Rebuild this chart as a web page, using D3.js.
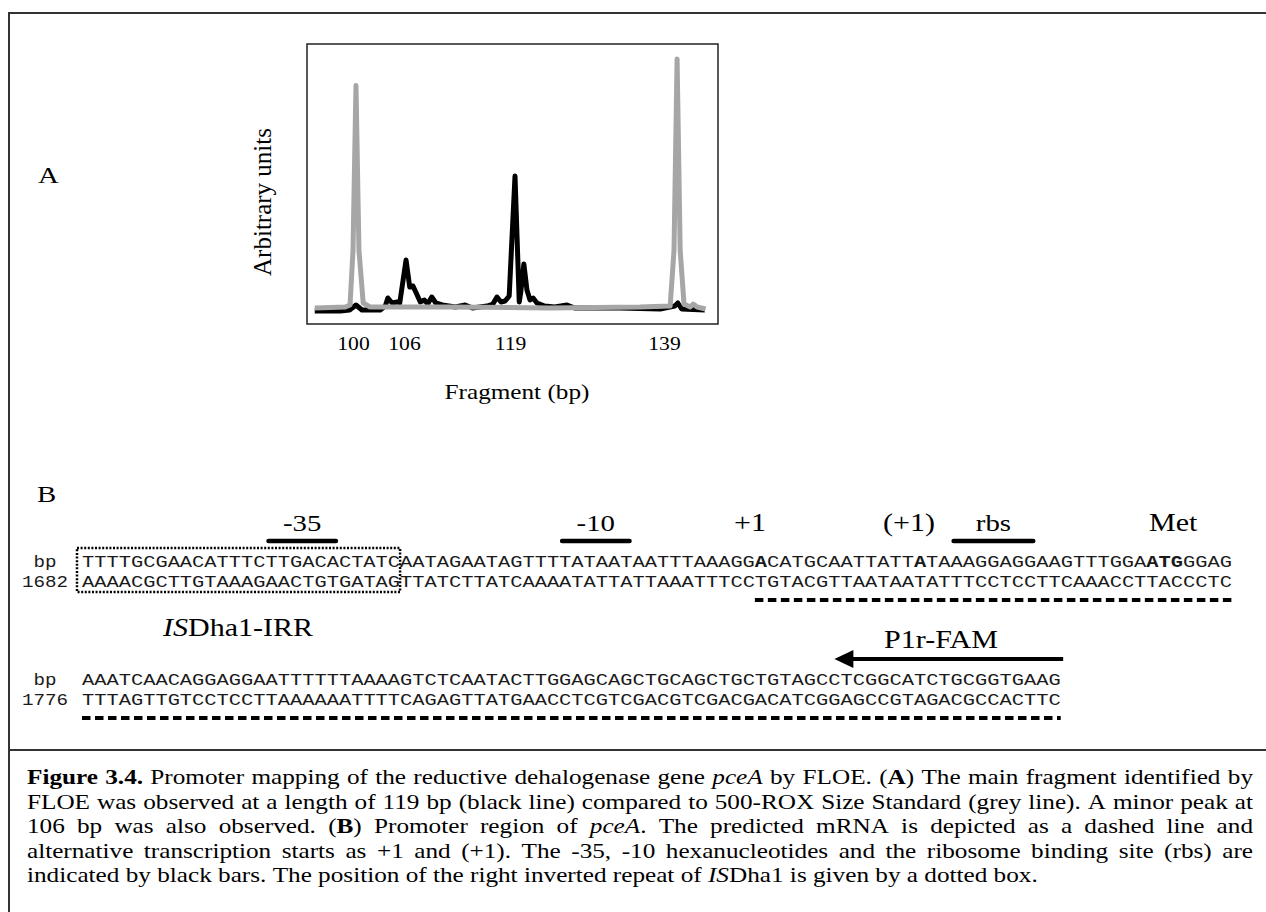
<!DOCTYPE html>
<html>
<head>
<meta charset="utf-8">
<script src="https://cdn.jsdelivr.net/npm/d3@7"></script>
<style>
  body { margin: 0; background: #fff; }
  svg { display: block; }
  text { font-family: "Liberation Serif", "Times New Roman", serif; fill: #000; }
  .seq { font-family: "Courier New", "Liberation Mono", monospace; fill: #1a1a1a; }
</style>
</head>
<body>
<svg id="fig" width="1266" height="912"></svg>
<script>
// ---- data ----
var tickBp = [100, 106, 119, 139];

// black trace: FLOE product (bp, arbitrary units)
var blackBp  = [95.5, 98.5, 99.6, 100.35, 101.05, 103.2, 103.8, 104.1, 104.6, 105.2, 105.5, 106.25, 106.7, 107.1, 107.5, 108.0, 108.5, 108.9, 109.4, 109.9, 110.7, 112.3, 113.5, 114.4, 116.2, 116.9, 117.4, 117.9, 118.4, 118.9, 119.65, 120.2, 120.4, 120.8, 121.2, 121.6, 122.0, 122.5, 123.5, 124.8, 126.4, 127.4, 133.3, 138.5, 140.4, 140.8, 141.3, 144.3];
var blackVal = [-1.2, -1.2, -0.8, 1.2, -0.8, -0.8, 0.8, 4, 2, 2.4, 2, 19.2, 8.4, 8.8, 6, 2.4, 3.2, 1.6, 4.4, 2, 1.2, 0.4, 1.2, 0, 0.8, 1.6, 4.4, 2.4, 2.8, 4.8, 52.8, 2.4, 6.4, 17.6, 7.2, 3.2, 4, 2, 0.8, 0.4, 1.2, 0, 0, -0.4, 0.8, 2, -0.4, -0.8];

// grey trace: 500-ROX size standard
var greyBp  = [95.5, 99.1, 99.65, 100.0, 100.35, 100.7, 101.2, 102.0, 111.6, 124.2, 135.9, 139.8, 140.3, 140.7, 141.1, 141.6, 142.4, 142.8, 143.3, 144.4];
var greyVal = [0, 0.4, 1.2, 23, 89, 23, 2, 0.4, 0.4, 0, 0.4, 0.8, 23, 99.6, 23, 1.6, 0.4, 1.6, 0.4, -0.4];

// promoter sequence, panel B
var seqTop1 = "TTTTGCGAACATTTCTTGACACTATCAATAGAATAGTTTTATAATAATTTAAAGGACATGCAATTATTATAAAGGAGGAAGTTTGGAATGGGAG";
var seqBot1 = "AAAACGCTTGTAAAGAACTGTGATAGTTATCTTATCAAAATATTATTAAATTTCCTGTACGTTAATAATATTTCCTCCTTCAAACCTTACCCTC";
var seqTop2 = "AAATCAACAGGAGGAATTTTTTAAAAGTCTCAATACTTGGAGCAGCTGCAGCTGCTGTAGCCTCGGCATCTGCGGTGAAG";
var seqBot2 = "TTTAGTTGTCCTCCTTAAAAAATTTTCAGAGTTATGAACCTCGTCGACGTCGACGACATCGGAGCCGTAGACGCCACTTC";
var boldPos1 = [55, 68, 87, 88, 89];        // 0-based: +1, (+1), ATG
var rowNums = ["1682", "1776"];

// features on row 1 (0-based nucleotide ranges, end exclusive)
var barFeatures = [
  {label: "-35", from: 15, to: 21},
  {label: "-10", from: 39, to: 45},
  {label: "rbs", from: 71, to: 78}
];
var pointLabels = [
  {label: "+1", at: 54.6},
  {label: "(+1)", at: 67.6},
  {label: "Met", at: 89.2}
];
var isBox = {from: 0, to: 26};
var mrna1 = {from: 55, to: 94};
var mrna2 = {from: 0, to: 80};
var primer = {from: 61.5, to: 80.2};

var captionLines = [
  "<b>Figure</b> <b>3.4.</b> Promoter mapping of the reductive dehalogenase gene <i>pceA</i> by FLOE. (<b>A</b>) The main fragment identified by",
  "FLOE was observed at a length of 119 bp (black line) compared to 500-ROX Size Standard (grey line). A minor peak at",
  "106 bp was also observed. (<b>B</b>) Promoter region of <i>pceA</i>. The predicted mRNA is depicted as a dashed line and",
  "alternative transcription starts as +1 and (+1). The -35, -10 hexanucleotides and the ribosome binding site (rbs) are",
  "indicated by black bars. The position of the right inverted repeat of <i>IS</i>Dha1 is given by a dotted box."
];

// ---- layout ----
var SX = 1.2;   // the figure is a bit wider than tall
var svg = d3.select("#fig");

// widen text horizontally; returns the new widths
function stretch(sel) {
  var ws = [];
  sel.each(function() {
    var w = this.getComputedTextLength() * SX;
    d3.select(this).attr("textLength", w).attr("lengthAdjust", "spacingAndGlyphs");
    ws.push(w);
  });
  return ws;
}

// outer frame + separator
svg.append("path")
  .attr("d", "M9,912 V13 H1266")
  .attr("fill", "none").attr("stroke", "#333").attr("stroke-width", 2);
svg.append("line")
  .attr("x1", 9).attr("x2", 1266).attr("y1", 750).attr("y2", 750)
  .attr("stroke", "#333").attr("stroke-width", 2);

// ---- panel A ----
var plot = {left: 307, right: 718, top: 44, bottom: 324};

var x = d3.scaleLinear().domain(tickBp).range([353, 404, 510, 664]);
var y = d3.scaleLinear().domain([0, 100]).range([308, 58]);

var line = d3.line()
  .x(function(d) { return x(d[0]); })
  .y(function(d) { return y(d[1]); });

svg.append("path")
  .attr("d", line(d3.zip(blackBp, blackVal)))
  .attr("fill", "none").attr("stroke", "#000")
  .attr("stroke-width", 5).attr("stroke-linejoin", "round");

svg.append("path")
  .attr("d", line(d3.zip(greyBp, greyVal)))
  .attr("fill", "none").attr("stroke", "#a6a6a6")
  .attr("stroke-width", 5).attr("stroke-linejoin", "round");

svg.append("rect")
  .attr("x", plot.left).attr("y", plot.top)
  .attr("width", plot.right - plot.left).attr("height", plot.bottom - plot.top)
  .attr("fill", "none").attr("stroke", "#222").attr("stroke-width", 1.5);

var xAxis = svg.append("g")
  .attr("transform", `translate(0, ${plot.bottom})`)
  .call(d3.axisBottom(x).tickValues(tickBp).tickSize(0).tickPadding(13).tickFormat(d3.format("d")));
xAxis.select(".domain").remove();
xAxis.selectAll("text")
  .attr("font-family", '"Liberation Serif", "Times New Roman", serif')
  .attr("font-size", 18).attr("fill", "#000");
stretch(xAxis.selectAll("text"));

stretch(svg.append("text").attr("x", 517).attr("y", 399)
  .attr("text-anchor", "middle").attr("font-size", 21).text("Fragment (bp)"));

svg.append("text")
  .attr("transform", "translate(271, 202) rotate(-90)")
  .attr("text-anchor", "middle").attr("font-size", 25).text("Arbitrary units");

stretch(svg.append("text").attr("x", 38).attr("y", 183).attr("font-size", 24).text("A"));

// ---- panel B ----
stretch(svg.append("text").attr("x", 37).attr("y", 502).attr("font-size", 24).text("B"));

var sx = d3.scaleLinear().domain([0, 94]).range([82, 1232]);
var rowY = [567, 587, 685, 705];

function seqRow(str, yy, bold) {
  var t = svg.append("text").attr("class", "seq")
    .attr("x", sx(0)).attr("y", yy).attr("font-size", 17)
    .attr("textLength", sx(str.length) - sx(0))
    .attr("lengthAdjust", "spacingAndGlyphs");
  var runs = [], cur = null;
  str.split("").forEach(function(c, i) {
    var b = bold && bold.indexOf(i) >= 0;
    if (!cur || cur.b !== b) { cur = {b: b, s: ""}; runs.push(cur); }
    cur.s += c;
  });
  runs.forEach(function(r) {
    t.append("tspan").attr("font-weight", r.b ? "bold" : null).text(r.s);
  });
}
seqRow(seqTop1, rowY[0], boldPos1);
seqRow(seqBot1, rowY[1]);
seqRow(seqTop2, rowY[2]);
seqRow(seqBot2, rowY[3]);

[["bp", rowY[0]], [rowNums[0], rowY[1]], ["bp", rowY[2]], [rowNums[1], rowY[3]]].forEach(function(d) {
  stretch(svg.append("text").attr("class", "seq")
    .attr("x", 45).attr("y", d[1]).attr("text-anchor", "middle")
    .attr("font-size", 16).text(d[0]));
});

// feature bars and labels above row 1
svg.selectAll(".fbar").data(barFeatures).enter().append("line")
  .attr("x1", function(d) { return sx(d.from) + 3; })
  .attr("x2", function(d) { return sx(d.to) - 3; })
  .attr("y1", 541).attr("y2", 541)
  .attr("stroke", "#000").attr("stroke-width", 4.5).attr("stroke-linecap", "round");

stretch(svg.selectAll(".flab").data(barFeatures).enter().append("text")
  .attr("x", function(d) { return (sx(d.from) + sx(d.to)) / 2; })
  .attr("y", 531).attr("text-anchor", "middle").attr("font-size", 24)
  .text(function(d) { return d.label; }));

stretch(svg.selectAll(".plab").data(pointLabels).enter().append("text")
  .attr("x", function(d) { return sx(d.at); })
  .attr("y", 531).attr("text-anchor", "middle").attr("font-size", 25)
  .text(function(d) { return d.label; }));

// dotted box round the IS element
svg.append("rect")
  .attr("x", sx(isBox.from) - 5).attr("y", 548)
  .attr("width", sx(isBox.to) - sx(isBox.from) + 5).attr("height", 44)
  .attr("fill", "none").attr("stroke", "#000")
  .attr("stroke-width", 2.5).attr("stroke-dasharray", "2,1.6");

var isLab = svg.append("text").attr("x", 238).attr("y", 636)
  .attr("text-anchor", "middle").attr("font-size", 25);
isLab.append("tspan").attr("font-style", "italic").text("IS");
isLab.append("tspan").text("Dha1-IRR");
stretch(isLab);

// predicted mRNA (dashed)
[[mrna1, 600], [mrna2, 718]].forEach(function(d) {
  svg.append("line")
    .attr("x1", sx(d[0].from)).attr("x2", sx(d[0].to))
    .attr("y1", d[1]).attr("y2", d[1])
    .attr("stroke", "#000").attr("stroke-width", 4)
    .attr("stroke-dasharray", "8.5,4.5");
});

// primer arrow
var ay = 659;
svg.append("line")
  .attr("x1", sx(primer.to)).attr("x2", sx(primer.from) + 14)
  .attr("y1", ay).attr("y2", ay)
  .attr("stroke", "#000").attr("stroke-width", 4);
svg.append("path")
  .attr("d", `M${sx(primer.from)},${ay} l19,-9 v18 z`)
  .attr("fill", "#000");
stretch(svg.append("text").attr("x", 941).attr("y", 648)
  .attr("text-anchor", "middle").attr("font-size", 25).text("P1r-FAM"));

// ---- caption (justified) ----
var capLeft = 27, capRight = 1253, capY0 = 784, capStep = 24.5, capSize = 21;
var runRe = /<(b|i)>(.*?)<\/\1>|[^<]+/g;
captionLines.forEach(function(ln, li) {
  var yy = capY0 + li * capStep;
  var widths = [];
  var nodes = ln.split(" ").map(function(w) {
    var t = svg.append("text").attr("y", yy).attr("font-size", capSize);
    var m;
    runRe.lastIndex = 0;
    while ((m = runRe.exec(w))) {
      t.append("tspan")
        .attr("font-weight", m[1] === "b" ? "bold" : null)
        .attr("font-style", m[1] === "i" ? "italic" : null)
        .text(m[1] ? m[2] : m[0]);
    }
    widths.push(stretch(t)[0]);
    return t;
  });
  var total = d3.sum(widths);
  var last = li === captionLines.length - 1;
  var gap = last ? capSize * 0.25 * SX : (capRight - capLeft - total) / (nodes.length - 1);
  var xx = capLeft;
  nodes.forEach(function(n, i) { n.attr("x", xx); xx += widths[i] + gap; });
});
</script>
</body>
</html>
